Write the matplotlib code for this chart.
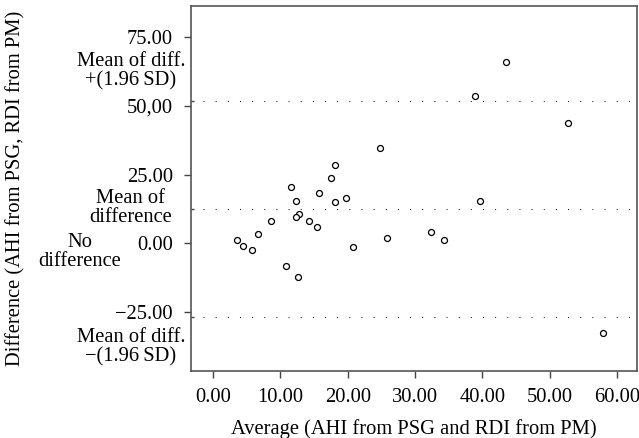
import numpy as np
import matplotlib.pyplot as plt

# Bland-Altman data (average, difference)
avg = [43.5, 38.9, 52.7, 24.8, 18.1, 17.5, 11.6, 15.7,
       12.35, 18.06, 19.8, 39.6, 12.75, 12.25, 8.58, 14.2, 15.4, 6.7,
       3.57, 4.37, 5.76, 20.8, 25.8, 32.4, 34.3, 10.77, 12.6, 57.9]
diff = [66.0, 53.6, 43.7, 34.5, 28.5, 23.8, 20.4, 18.4,
        15.4, 14.8, 16.3, 15.5, 10.6, 9.5, 8.2, 8.1, 5.8, 3.4,
        1.3, -1.0, -2.6, -1.5, 2.0, 4.0, 1.1, -8.5, -12.5, -32.8]

mean_diff = 12.4
upper_lim = 51.8
lower_lim = -27.0

xticks = [0, 10, 20, 30, 40, 50, 60]
xticklabels = ["0.00", "10.00", "20.00", "30.00", "40.00", "50.00", "60.00"]
yticks = [75, 50, 25, 0, -25]
yticklabels = ["75.00", "50,00", "25.00", "0.00", "\u221225.00"]

plt.rcParams['font.family'] = ['Liberation Serif', 'DejaVu Serif']
plt.rcParams['font.size'] = 14.8

fig = plt.figure(figsize=(6.39, 4.38), dpi=100)
ax = fig.add_axes([191 / 639, 1 - 371 / 438, 446 / 639, 365 / 438])

# limit lines
for lev in [upper_lim, mean_diff, lower_lim]:
    ax.plot([-1.5, 63.0], [lev, lev], color='black', lw=0.7,
            linestyle=(0, (1, 11.5)))

ax.plot(avg, diff, linestyle='none', marker='o', ms=4.3, mfc='white',
        mec='black', mew=0.9)

ax.set_xlim(-3.3, 63.0)
ax.set_ylim(-46.6, 86.4)
ax.set_xticks(xticks)
ax.set_xticklabels(xticklabels)
ax.set_yticks(yticks)
ax.set_yticklabels(yticklabels)
ax.set_yticks([upper_lim, mean_diff, lower_lim], minor=True)
ax.tick_params(axis='both', which='major', direction='out', length=5,
               width=1, color='#444444', pad=7)
ax.tick_params(axis='y', which='minor', direction='in', length=2,
               width=1, color='#444444')
ax.tick_params(axis='y', which='major', pad=8)
for s in ax.spines.values():
    s.set_color('#555555')
    s.set_linewidth(1.2)

ax.set_xlabel("Average (AHI from PSG and RDI from PM)", labelpad=9)

# side annotations
tx = 131 / 639
fig.text(tx, 1 - 71 / 438, "Mean of diff.\n+(1.96\u2009SD)", ha='center',
         va='center', linespacing=1.0)
fig.text(tx, 1 - 208 / 438, "Mean of\ndifference", ha='center',
         va='center', linespacing=1.0)
fig.text(80 / 639, 1 - 252 / 438, "No\ndifference", ha='center',
         va='center', linespacing=1.0)
fig.text(tx, 1 - 347 / 438, "Mean of diff.\n\u2212(1.96\u2009SD)", ha='center',
         va='center', linespacing=1.0)
fig.text(16 / 639, 1 - 188 / 438, "Difference (AHI from PSG, RDI from PM)",
         rotation=90, ha='center', va='center')

fig.savefig("out.png", dpi=100)
